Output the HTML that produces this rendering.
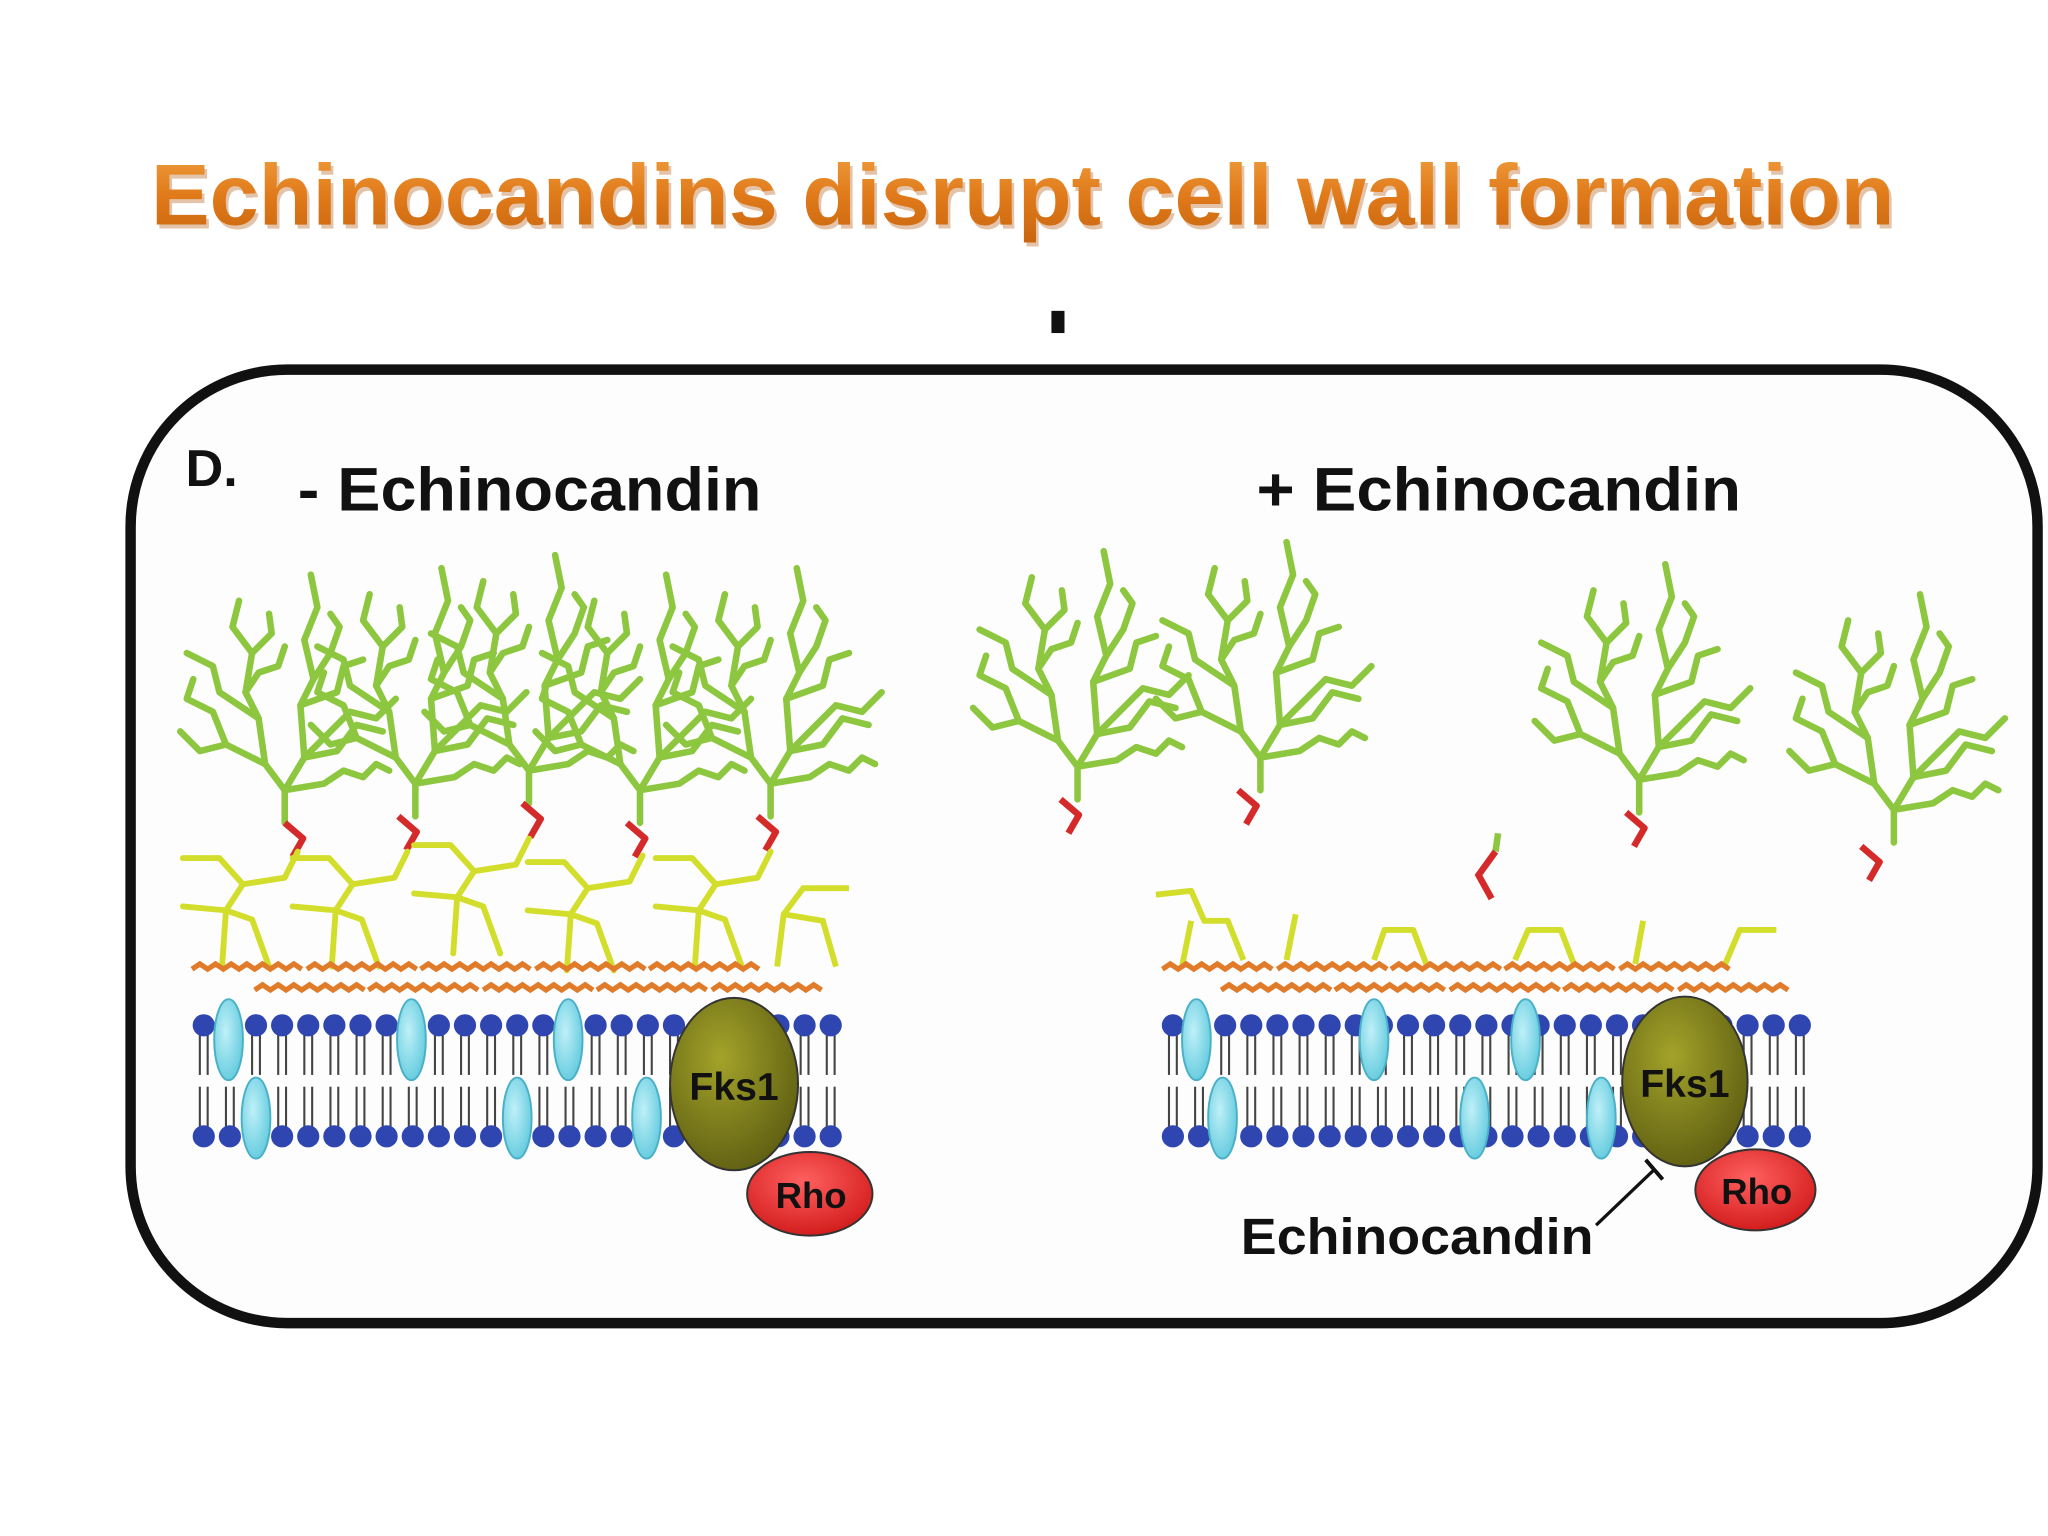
<!DOCTYPE html>
<html><head><meta charset="utf-8"><style>
html,body{margin:0;padding:0;background:#fff;}
svg{display:block;}
</style></head><body>
<svg width="2048" height="1536" viewBox="0 0 1568 1176" xmlns="http://www.w3.org/2000/svg">
<defs>
<linearGradient id="tg" x1="0" y1="0" x2="0" y2="1">
<stop offset="0" stop-color="#f0a040"/><stop offset="0.5" stop-color="#e07a1a"/><stop offset="1" stop-color="#c8650e"/>
</linearGradient>
<radialGradient id="fks" cx="0.4" cy="0.35" r="0.7">
<stop offset="0" stop-color="#a3a32a"/><stop offset="1" stop-color="#5e5e12"/>
</radialGradient>
<radialGradient id="rho" cx="0.45" cy="0.35" r="0.7">
<stop offset="0" stop-color="#ff6060"/><stop offset="1" stop-color="#d01818"/>
</radialGradient>
<radialGradient id="cy" cx="0.4" cy="0.4" r="0.7">
<stop offset="0" stop-color="#bff0f8"/><stop offset="1" stop-color="#5cc8dc"/>
</radialGradient>
<g id="tree" fill="none" stroke="#8dc63f" stroke-width="5" stroke-linejoin="round" stroke-linecap="round">
<polyline points="0,0 0,-25 -15,-45 -20,-80 -30,-100 -25,-130 -40,-150 -35,-170"/>
<polyline points="0,-25 15,-50 12,-90 22,-110 15,-140 25,-165 20,-190"/>
<polyline points="-15,-45 -45,-60 -55,-85 -75,-95 -70,-110"/>
<polyline points="-20,-80 -50,-100 -55,-120 -75,-130"/>
<polyline points="-45,-60 -65,-55 -80,-70"/>
<polyline points="15,-50 40,-55 55,-75 75,-70"/>
<polyline points="12,-90 40,-100 45,-120 60,-125"/>
<polyline points="0,-25 30,-30 45,-40 60,-35 70,-45 80,-40"/>
<polyline points="15,-50 30,-65 50,-85 70,-80 85,-95"/>
<polyline points="22,-110 35,-130 42,-150 35,-160"/>
<polyline points="-30,-100 -20,-115 -5,-120 0,-135"/>
<polyline points="-25,-130 -10,-145 -12,-160"/>
</g>
<polyline id="red" points="0,0 14,12 6,26" fill="none" stroke="#d42a2a" stroke-width="5" stroke-linejoin="round"/>
<g id="glu" fill="none" stroke="#d3de2c" stroke-width="4.5" stroke-linejoin="round" stroke-linecap="round">
<polyline points="0,0 -10,20 -42,25 -55,45 -58,88"/>
<polyline points="-55,45 -88,42"/>
<polyline points="-42,25 -60,5 -88,5"/>
<polyline points="-55,45 -35,52 -22,88"/>
</g>
<path id="wave" d="M0,0 l6,-4 l6,4 l6,-4 l6,4 l6,-4 l6,4 l6,-4 l6,4 l6,-4 l6,4 l6,-4 l6,4 l6,-4 l6,4" fill="none" stroke="#e07b2a" stroke-width="4"/>
<g id="lip">
<line x1="-3" y1="0" x2="-3" y2="38" stroke="#444" stroke-width="1.6"/>
<line x1="3" y1="0" x2="3" y2="38" stroke="#444" stroke-width="1.6"/>
<circle cx="0" cy="0" r="8.5" fill="#2f45b0"/>
</g>
<g id="lip2">
<line x1="-3" y1="0" x2="-3" y2="-38" stroke="#444" stroke-width="1.6"/>
<line x1="3" y1="0" x2="3" y2="-38" stroke="#444" stroke-width="1.6"/>
<circle cx="0" cy="0" r="8.5" fill="#2f45b0"/>
</g>
</defs>

<rect width="1568" height="1176" fill="#fff"/>
<text x="783" y="172" text-anchor="middle" font-family="Liberation Sans, sans-serif" font-weight="bold" font-size="66" fill="#b05a10" opacity="0.35" textLength="1335" lengthAdjust="spacingAndGlyphs" transform="translate(2,3)">Echinocandins disrupt cell wall formation</text>
<text x="783" y="172" text-anchor="middle" font-family="Liberation Sans, sans-serif" font-weight="bold" font-size="66" fill="url(#tg)" textLength="1335" lengthAdjust="spacingAndGlyphs">Echinocandins disrupt cell wall formation</text>
<rect x="805" y="238" width="10" height="17" fill="#111"/>

<rect x="100" y="283" width="1460" height="730" rx="120" ry="120" fill="#fdfdfd" stroke="#111" stroke-width="8"/>

<g font-family="Liberation Sans, sans-serif" font-weight="bold" fill="#111">
<text x="142" y="372" font-size="40">D.</text>
<text x="228" y="391" font-size="47" textLength="355" lengthAdjust="spacingAndGlyphs">- Echinocandin</text>
<text x="962" y="391" font-size="47" textLength="371" lengthAdjust="spacingAndGlyphs">+ Echinocandin</text>
<text x="950" y="960" font-size="39" textLength="270" lengthAdjust="spacingAndGlyphs">Echinocandin</text>
</g>

<use href="#tree" x="218" y="630"/>
<use href="#tree" x="318" y="625"/>
<use href="#tree" x="405" y="615"/>
<use href="#tree" x="490" y="630"/>
<use href="#tree" x="590" y="625"/>
<use href="#red" x="218" y="630"/>
<use href="#red" x="305" y="625"/>
<use href="#red" x="400" y="615"/>
<use href="#red" x="480" y="630"/>
<use href="#red" x="580" y="625"/>
<use href="#tree" x="825" y="612"/>
<use href="#tree" x="965" y="605"/>
<use href="#tree" x="1255" y="622"/>
<use href="#tree" x="1450" y="645"/>
<use href="#red" x="812" y="612"/>
<use href="#red" x="948" y="605"/>
<use href="#red" x="1245" y="622"/>
<use href="#red" x="1425" y="648"/>
<polyline points="1147,638 1145,652" stroke="#8dc63f" stroke-width="5" fill="none"/>
<polyline points="1145,652 1132,670 1142,688" stroke="#d42a2a" stroke-width="5" fill="none"/>

<use href="#glu" x="228" y="652"/>
<use href="#glu" x="312" y="652"/>
<use href="#glu" x="405" y="642"/>
<use href="#glu" x="492" y="655"/>
<use href="#glu" x="590" y="652"/>
<polyline points="650,680 615,680 600,700 595,740" stroke="#d3de2c" stroke-width="4.5" fill="none"/>
<polyline points="600,700 630,705 640,740" stroke="#d3de2c" stroke-width="4.5" fill="none"/>
<g fill="none" stroke="#d3de2c" stroke-width="4.5" stroke-linejoin="round">
<polyline points="885,685 912,682 922,705 940,705 952,735"/>
<polyline points="912,705 905,740"/>
<polyline points="992,700 985,735"/>
<polyline points="1052,735 1060,712 1082,712 1092,738"/>
<polyline points="1160,735 1170,712 1195,712 1205,738"/>
<polyline points="1258,705 1252,738"/>
<polyline points="1320,740 1332,712 1360,712"/>
</g>

<g>
<use href="#wave" x="147" y="742"/><use href="#wave" x="235" y="742"/><use href="#wave" x="322" y="742"/><use href="#wave" x="410" y="742"/><use href="#wave" x="497" y="742"/>
<use href="#wave" x="195" y="758"/><use href="#wave" x="282" y="758"/><use href="#wave" x="370" y="758"/><use href="#wave" x="457" y="758"/><use href="#wave" x="545" y="758"/>
<use href="#wave" x="890" y="742"/><use href="#wave" x="978" y="742"/><use href="#wave" x="1065" y="742"/><use href="#wave" x="1152" y="742"/><use href="#wave" x="1240" y="742"/>
<use href="#wave" x="935" y="758"/><use href="#wave" x="1022" y="758"/><use href="#wave" x="1110" y="758"/><use href="#wave" x="1197" y="758"/><use href="#wave" x="1285" y="758"/>
</g>

<g id="memL">
<use href="#lip" x="156" y="785"/><use href="#lip" x="176" y="785"/><use href="#lip" x="196" y="785"/><use href="#lip" x="216" y="785"/><use href="#lip" x="236" y="785"/><use href="#lip" x="256" y="785"/><use href="#lip" x="276" y="785"/><use href="#lip" x="296" y="785"/><use href="#lip" x="316" y="785"/><use href="#lip" x="336" y="785"/><use href="#lip" x="356" y="785"/><use href="#lip" x="376" y="785"/><use href="#lip" x="396" y="785"/><use href="#lip" x="416" y="785"/><use href="#lip" x="436" y="785"/><use href="#lip" x="456" y="785"/><use href="#lip" x="476" y="785"/><use href="#lip" x="496" y="785"/><use href="#lip" x="516" y="785"/><use href="#lip" x="536" y="785"/><use href="#lip" x="556" y="785"/><use href="#lip" x="576" y="785"/><use href="#lip" x="596" y="785"/><use href="#lip" x="616" y="785"/><use href="#lip" x="636" y="785"/>
<use href="#lip2" x="156" y="870"/><use href="#lip2" x="176" y="870"/><use href="#lip2" x="196" y="870"/><use href="#lip2" x="216" y="870"/><use href="#lip2" x="236" y="870"/><use href="#lip2" x="256" y="870"/><use href="#lip2" x="276" y="870"/><use href="#lip2" x="296" y="870"/><use href="#lip2" x="316" y="870"/><use href="#lip2" x="336" y="870"/><use href="#lip2" x="356" y="870"/><use href="#lip2" x="376" y="870"/><use href="#lip2" x="396" y="870"/><use href="#lip2" x="416" y="870"/><use href="#lip2" x="436" y="870"/><use href="#lip2" x="456" y="870"/><use href="#lip2" x="476" y="870"/><use href="#lip2" x="496" y="870"/><use href="#lip2" x="516" y="870"/><use href="#lip2" x="536" y="870"/><use href="#lip2" x="556" y="870"/><use href="#lip2" x="576" y="870"/><use href="#lip2" x="596" y="870"/><use href="#lip2" x="616" y="870"/><use href="#lip2" x="636" y="870"/>
</g>
<use href="#memL" x="742" y="0"/>

<g fill="url(#cy)" stroke="#4ab0c8" stroke-width="1.5">
<ellipse cx="175" cy="796" rx="11" ry="31"/><ellipse cx="315" cy="796" rx="11" ry="31"/><ellipse cx="435" cy="796" rx="11" ry="31"/>
<ellipse cx="196" cy="856" rx="11" ry="31"/><ellipse cx="396" cy="856" rx="11" ry="31"/><ellipse cx="495" cy="856" rx="11" ry="31"/>
<ellipse cx="916" cy="796" rx="11" ry="31"/><ellipse cx="1052" cy="796" rx="11" ry="31"/><ellipse cx="1168" cy="796" rx="11" ry="31"/>
<ellipse cx="936" cy="856" rx="11" ry="31"/><ellipse cx="1129" cy="856" rx="11" ry="31"/><ellipse cx="1226" cy="856" rx="11" ry="31"/>
</g>

<g font-family="Liberation Sans, sans-serif" font-weight="bold" fill="#111" text-anchor="middle">
<ellipse cx="562" cy="830" rx="49" ry="66" fill="url(#fks)" stroke="#333" stroke-width="1.5"/>
<text x="562" y="842" font-size="30">Fks1</text>
<ellipse cx="620" cy="914" rx="48" ry="32" fill="url(#rho)" stroke="#333" stroke-width="1.5"/>
<text x="621" y="925" font-size="28">Rho</text>
<ellipse cx="1290" cy="828" rx="48" ry="65" fill="url(#fks)" stroke="#333" stroke-width="1.5"/>
<text x="1290" y="840" font-size="30">Fks1</text>
<ellipse cx="1344" cy="911" rx="46" ry="31" fill="url(#rho)" stroke="#333" stroke-width="1.5"/>
<text x="1345" y="922" font-size="28">Rho</text>
</g>
<line x1="1222" y1="938" x2="1266" y2="896" stroke="#111" stroke-width="2.5"/>
<line x1="1260" y1="888" x2="1273" y2="903" stroke="#111" stroke-width="3"/>
</svg>
</body></html>
